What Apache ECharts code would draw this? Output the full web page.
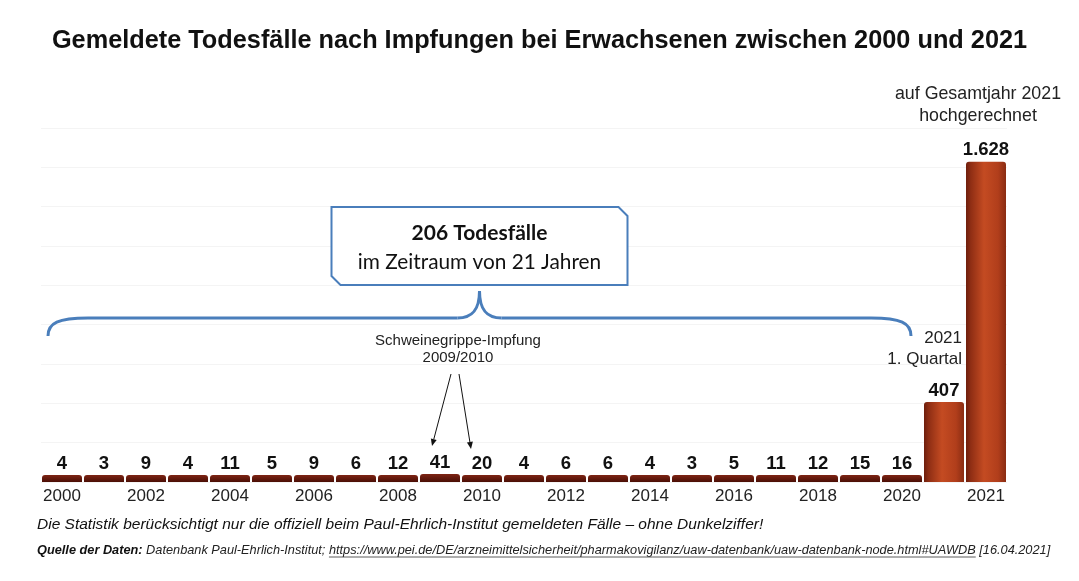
<!DOCTYPE html>
<html>
<head>
<meta charset="utf-8">
<script src="https://cdn.jsdelivr.net/npm/echarts@6/dist/echarts.min.js"></script>
<style>
  html, body { margin: 0; padding: 0; background: #fff; }
  #chart { width: 1079px; height: 581px; }
</style>
</head>
<body>
<div id="chart"></div>
<script>
const years = ['2000','2001','2002','2003','2004','2005','2006','2007','2008','2009','2010',
  '2011','2012','2013','2014','2015','2016','2017','2018','2019','2020','2021 Q1','2021'];
const deaths = [4, 3, 9, 4, 11, 5, 9, 6, 12, 41, 20, 4, 6, 6, 4, 3, 5, 11, 12, 15, 16, 407, 1628];
const titleText = 'Gemeldete Todesfälle nach Impfungen bei Erwachsenen zwischen 2000 und 2021';
const noteText = 'Die Statistik berücksichtigt nur die offiziell beim Paul-Ehrlich-Institut gemeldeten Fälle – ohne Dunkelziffer!';
const sourceLabel = 'Quelle der Daten:';
const sourceName = ' Datenbank Paul-Ehrlich-Institut; ';
const sourceUrl = 'https://www.pei.de/DE/arzneimittelsicherheit/pharmakovigilanz/uaw-datenbank/uaw-datenbank-node.html#UAWDB';
const sourceDate = ' [16.04.2021]';

const font = '"Liberation Sans", Arial, Helvetica, sans-serif';
const blue = '#4a7ebb';

function fmt(v) {
  // german thousands separator
  return String(v).replace(/\B(?=(\d{3})+(?!\d))/g, '.');
}

function barColor(i) {
  if (deaths[i] < 100) {
    return { type: 'linear', x: 0, y: 0, x2: 0, y2: 1,
      colorStops: [{ offset: 0, color: '#7e2414' }, { offset: 1, color: '#4a0e05' }] };
  }
  return { type: 'linear', x: 0, y: 0, x2: 1, y2: 0,
    colorStops: [
      { offset: 0, color: '#6e1e0c' },
      { offset: 0.12, color: '#8f2e14' },
      { offset: 0.45, color: '#c44b22' },
      { offset: 0.8, color: '#b13e1b' },
      { offset: 1, color: '#8a2c12' }] };
}

let chart = echarts.init(document.getElementById('chart'));
let option = {
  backgroundColor: '#fff',
  animation: false,
  title: {
    text: titleText,
    left: 'center',
    top: 24,
    textStyle: { fontFamily: font, fontWeight: 'bold', fontSize: 25.3, color: '#111' }
  },
  grid: { left: 41, right: 72, top: 128, bottom: 99 },
  xAxis: {
    type: 'category',
    data: years,
    axisLine: { show: false },
    axisTick: { show: false },
    axisLabel: {
      interval: 1,
      margin: 6,
      fontFamily: font,
      fontSize: 17,
      color: '#222',
      formatter: v => v.replace(' Q1', '')
    }
  },
  yAxis: {
    type: 'value',
    min: 0,
    max: 1800,
    interval: 200,
    axisLabel: { show: false },
    axisLine: { show: false },
    axisTick: { show: false },
    splitLine: { lineStyle: { color: '#f4f4f4', width: 1 } }
  },
  series: [{
    type: 'bar',
    barWidth: 40,
    barMinHeight: 7,
    data: deaths.map((v, i) => ({ value: v, itemStyle: { color: barColor(i), borderRadius: [3, 3, 0, 0] } })),
    label: {
      show: true,
      position: 'top',
      distance: 2,
      fontFamily: font,
      fontWeight: 'bold',
      fontSize: 18.5,
      color: '#111',
      formatter: p => fmt(p.value)
    }
  }]
};
chart.setOption(option);

// annotations, placed from the axis scales
function px(i, v) {
  return chart.convertToPixel({ xAxisIndex: 0, yAxisIndex: 0 }, [i, v || 0]);
}

function arrow(x1, y1, x2, y2) {
  let a = Math.atan2(y2 - y1, x2 - x1);
  let s = 7, w = 3;
  let bx = x2 - s * Math.cos(a), by = y2 - s * Math.sin(a);
  return [
    { type: 'line', shape: { x1: x1, y1: y1, x2: bx, y2: by }, style: { stroke: '#111', lineWidth: 1 } },
    { type: 'polygon', shape: { points: [[x2, y2],
      [bx + w * Math.sin(a), by - w * Math.cos(a)],
      [bx - w * Math.sin(a), by + w * Math.cos(a)]] }, style: { fill: '#111' } }
  ];
}

let xl = px(0)[0] - 14;
let xr = px(20)[0] + 9;
let xc = (xl + xr) / 2;
let xSwine = (px(9)[0] + px(10)[0]) / 2;
let xQ1 = px(21)[0] + 18;
let xYear = px(22)[0] - 8;

let measure = document.createElement('canvas').getContext('2d');
let srcSize = 12.75;
let srcFont = 'italic ' + srcSize + 'px ' + font;
measure.font = 'italic bold ' + srcSize + 'px ' + font;
let wLabel = measure.measureText(sourceLabel).width;
measure.font = srcFont;
let wName = measure.measureText(sourceName).width;
let wUrl = measure.measureText(sourceUrl).width;
let srcX = 37, srcY = 550;

let bw = 296, by0 = 207, by1 = 285, cut = 9;
let bx0 = xc - bw / 2, bx1 = xc + bw / 2;

const braceStyle = { stroke: blue, lineWidth: 3, fill: null };
function curve(x1, y1, c1x, c1y, c2x, c2y, x2, y2) {
  return { type: 'bezierCurve', shape: { x1: x1, y1: y1, cpx1: c1x, cpy1: c1y, cpx2: c2x, cpy2: c2y, x2: x2, y2: y2 },
    style: braceStyle };
}

chart.setOption({
  graphic: [
    curve(xl, 336, xl, 323, xl + 10, 318, xl + 40, 318),
    { type: 'line', shape: { x1: xl + 40, y1: 318, x2: xc - 22, y2: 318 }, style: braceStyle },
    curve(xc - 22, 318, xc - 8, 318, xc, 311, xc, 291),
    curve(xc, 291, xc, 311, xc + 8, 318, xc + 22, 318),
    { type: 'line', shape: { x1: xc + 22, y1: 318, x2: xr - 40, y2: 318 }, style: braceStyle },
    curve(xr - 40, 318, xr - 10, 318, xr, 323, xr, 336),
    {
      type: 'polygon',
      shape: { points: [[bx0, by0], [bx1 - cut, by0], [bx1, by0 + cut], [bx1, by1],
        [bx0 + cut, by1], [bx0, by1 - cut]] },
      style: { stroke: blue, lineWidth: 2, fill: '#fff' }
    },
    {
      type: 'text', x: xc, y: 233,
      style: { text: '206 Todesfälle', fill: '#111', font: 'bold 21px Lato, "Open Sans", sans-serif',
        textAlign: 'center', textVerticalAlign: 'middle' }
    },
    {
      type: 'text', x: xc, y: 262,
      style: { text: 'im Zeitraum von 21 Jahren', fill: '#111', font: '20.8px Lato, "Open Sans", sans-serif',
        textAlign: 'center', textVerticalAlign: 'middle' }
    },
    {
      type: 'text', x: xSwine - 3, y: 349,
      style: { text: 'Schweinegrippe-Impfung\n2009/2010', fill: '#222', font: '15px ' + font,
        lineHeight: 17, textAlign: 'center', textVerticalAlign: 'middle' }
    },
    ...arrow(xSwine - 10, 374, px(9)[0] - 8, 446),
    ...arrow(xSwine - 2, 374, px(10)[0] - 11, 449),
    {
      type: 'text', x: xQ1, y: 349,
      style: { text: '2021\n1. Quartal', fill: '#222', font: '17px ' + font,
        lineHeight: 21, textAlign: 'right', textVerticalAlign: 'middle' }
    },
    {
      type: 'text', x: xYear, y: 105,
      style: { text: 'auf Gesamtjahr 2021\nhochgerechnet', fill: '#222', font: '17.8px ' + font,
        lineHeight: 22, textAlign: 'center', textVerticalAlign: 'middle' }
    },
    {
      type: 'text', x: 37, y: 525,
      style: { text: noteText, fill: '#111', font: 'italic 15.5px ' + font, textVerticalAlign: 'middle' }
    },
    {
      type: 'text', x: srcX, y: srcY,
      style: { text: sourceLabel, fill: '#111', font: 'italic bold ' + srcSize + 'px ' + font, textVerticalAlign: 'middle' }
    },
    {
      type: 'text', x: srcX + wLabel, y: srcY,
      style: { text: sourceName + sourceUrl + sourceDate, fill: '#222', font: srcFont, textVerticalAlign: 'middle' }
    },
    {
      type: 'line',
      shape: { x1: srcX + wLabel + wName, y1: srcY + 7, x2: srcX + wLabel + wName + wUrl, y2: srcY + 7 },
      style: { stroke: '#333', lineWidth: 0.8 }
    }
  ]
});
</script>
</body>
</html>
